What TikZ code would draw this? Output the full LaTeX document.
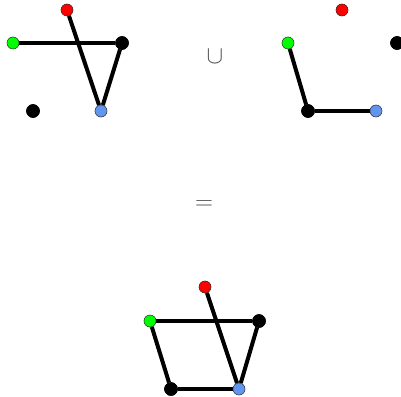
\documentclass[tikz,border=0pt]{standalone}
\usepackage{tikz}
\usetikzlibrary{positioning}
\definecolor{cornflower}{RGB}{100,149,237}
\tikzset{
  vtx/.style={
    draw=black!80, circle, thin, minimum size=12pt,
    inner sep=0pt
  },
  vred/.style={vtx, fill=red},
  vgrn/.style={vtx, fill=green},
  vblu/.style={vtx, fill=cornflower},
  vblk/.style={vtx, draw=black, fill=black, minimum size=13pt},
  edg/.style={line width=4pt},
  op/.style={font=\fontsize{25}{27}\selectfont, text=black!70}
}

\begin{document}
\begin{tikzpicture}[x=1pt, y=-1pt]
  \useasboundingbox (0,0) rectangle (401,396);

  % left graph
  \node[vred] (r1) at (67,10)   {};
  \node[vgrn] (g1) at (13,43)   {};
  \node[vblk] (k1) at (122,43)  {};
  \node[vblk] (d1) at (33,111)  {};
  \node[vblu] (b1) at (101,111) {};

  % right graph
  \node[vred] (r2) at (342,10)  {};
  \node[vgrn] (g2) at (288,43)  {};
  \node[vblk] (k2) at (397,43)  {};
  \node[vblk] (d2) at (308,111) {};
  \node[vblu] (b2) at (376,111) {};

  % result
  \node[vred] (r3) at (205,287) {};
  \node[vgrn] (g3) at (150,321) {};
  \node[vblk] (k3) at (259,321) {};
  \node[vblk] (d3) at (171,389) {};
  \node[vblu] (b3) at (239,389) {};

  % edges
  \draw[edg] (g1) -- (k1);
  \draw[edg] (r1) -- (b1);
  \draw[edg] (k1) -- (b1);

  \draw[edg] (g2) -- (d2);
  \draw[edg] (d2) -- (b2);

  \draw[edg] (g3) -- (k3);
  \draw[edg] (r3) -- (b3);
  \draw[edg] (k3) -- (b3);
  \draw[edg] (g3) -- (d3);
  \draw[edg] (d3) -- (b3);

  % vertices on top of the edges
  \foreach \n/\s in {r1/vred,g1/vgrn,k1/vblk,d1/vblk,b1/vblu,
                     r2/vred,g2/vgrn,k2/vblk,d2/vblk,b2/vblu,
                     r3/vred,g3/vgrn,k3/vblk,d3/vblk,b3/vblu}
    \node[\s] at (\n) {};

  \node[op] (un) at (215,57)  {$\cup$};
  \node[op] (eq) at (204,205) {$=$};
\end{tikzpicture}
\end{document}
